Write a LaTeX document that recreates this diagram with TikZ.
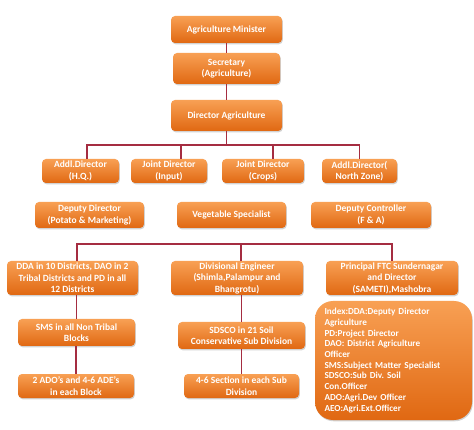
\documentclass[tikz,border=0pt]{standalone}
\usepackage{fontspec}
\setmainfont{Carlito}
\usepackage{xcolor}
\usetikzlibrary{shadows}
\frenchspacing

\definecolor{boxtop}{RGB}{248,160,84}
\definecolor{boxbottom}{RGB}{224,104,18}
\definecolor{linkred}{RGB}{165,45,65}

\tikzset{
  orgbox/.style={rounded corners=4pt, top color=boxtop, bottom color=boxbottom,
    text=white, align=center, inner sep=1pt,
    font=\bfseries\fontsize{9.5}{11.5}\selectfont,
    drop shadow={opacity=0.35, shadow xshift=0.8pt, shadow yshift=-1.3pt}},
  link/.style={draw=linkred, line width=1.4pt}
}

\begin{document}
\begin{tikzpicture}[x=1pt, y=-1pt]
    \fill[white] (0,0) rectangle (474,430);
    \useasboundingbox (0,0) rectangle (474,430);

    % Top of the chart
    \node[orgbox, minimum width=111pt, minimum height=27pt] (minister) at (226.5,29.5) {Agriculture Minister};
    \node[orgbox, minimum width=107pt, minimum height=31pt] (secy) at (226.5,68.5) {Secretary\\(Agriculture)};
    \node[orgbox, minimum width=111pt, minimum height=31pt] (director) at (226.5,115.5) {Director Agriculture};

    % First row under the director
    \node[orgbox, minimum width=77pt, minimum height=24pt] (addlhq) at (80.5,171) {Addl.Director\\(H.Q.)};
    \node[orgbox, minimum width=76pt, minimum height=24pt] (jdinput) at (169,171) {Joint Director\\(Input)};
    \node[orgbox, minimum width=82pt, minimum height=24pt] (jdcrops) at (263,171) {Joint Director\\(Crops)};
    \node[orgbox, minimum width=75pt, minimum height=24pt] (addlnz) at (359.5,171) {Addl.Director(\\North Zone)};

    % Second row
    \node[orgbox, minimum width=109pt, minimum height=26pt] (deputydir) at (89.5,215) {Deputy Director\\(Potato \& Marketing)};
    \node[orgbox, minimum width=109pt, minimum height=26pt] (vegspec) at (231.5,215) {Vegetable Specialist};
    \node[orgbox, minimum width=120pt, minimum height=26pt] (depctrl) at (371,215) {Deputy Controller\\(F \& A)};

    % Third row
    \node[orgbox, minimum width=131pt, minimum height=34pt] (dda) at (72.5,278) {DDA in 10 Districts, DAO in 2\\Tribal Districts and PD in all\\12 Districts};
    \node[orgbox, minimum width=132pt, minimum height=34pt] (diveng) at (237,278) {Divisional Engineer\\(Shimla,Palampur and\\Bhangrotu)};
    \node[orgbox, minimum width=132pt, minimum height=34pt] (ftc) at (392,278) {Principal FTC Sundernagar\\and Director\\(SAMETI),Mashobra};

    % Field level
    \node[orgbox, minimum width=117pt, minimum height=27pt] (sms) at (76.5,332.5) {SMS in all Non Tribal\\Blocks};
    \node[orgbox, minimum width=116pt, minimum height=24pt] (ado) at (76,386) {2 ADO's and 4-6 ADE's\\in each Block};
    \node[orgbox, minimum width=127pt, minimum height=27pt] (sdsco) at (241.5,335.5) {SDSCO in 21 Soil\\Conservative Sub Division};
    \node[orgbox, minimum width=115pt, minimum height=24pt] (section) at (241.5,386) {4-6 Section in each Sub\\Division};

    % Index
    \node[orgbox, rounded corners=18pt, align=left, minimum width=157pt, minimum height=119pt,
      text width=138pt, font=\bfseries\fontsize{9.2}{10.7}\selectfont] (index) at (393.5,360.5)
      {Index:DDA:Deputy Director\\Agriculture\\PD:Project Director\\DAO: District Agriculture\\Officer\\SMS:Subject Matter Specialist\\SDSCO:Sub Div. Soil\\Con.Officer\\ADO:Agri.Dev Officer\\AEO:Agri.Ext.Officer};

    % Connectors
    \coordinate (bus1) at (226.5,145);
    \coordinate (bus2) at (241,244);
    \draw[link] (minister) -- (secy);
    \draw[link] (secy) -- (director);
    \draw[link] (director) -- (bus1);
    \draw[link] (bus1) -| ([xshift=6.5pt]addlhq.north);
    \draw[link] (bus1) -| ([xshift=12pt]jdinput.north);
    \draw[link] (bus1) -| ([xshift=10pt]jdcrops.north);
    \draw[link] (bus1) -| (addlnz.north);
    \draw[link] (bus2) -| ([xshift=4.5pt]dda.north);
    \draw[link] (bus2) -| (ftc.north);
    \draw[link] (bus2) -- (bus2 |- diveng.north);
    \draw[link] (sms.north) -- (sms.north |- dda.south);
    \draw[link] (ado.north) -- (ado.north |- sms.south);
    \draw[link] (sdsco.north) -- (sdsco.north |- diveng.south);
    \draw[link] (section.north) -- (section.north |- sdsco.south);
\end{tikzpicture}
\end{document}
